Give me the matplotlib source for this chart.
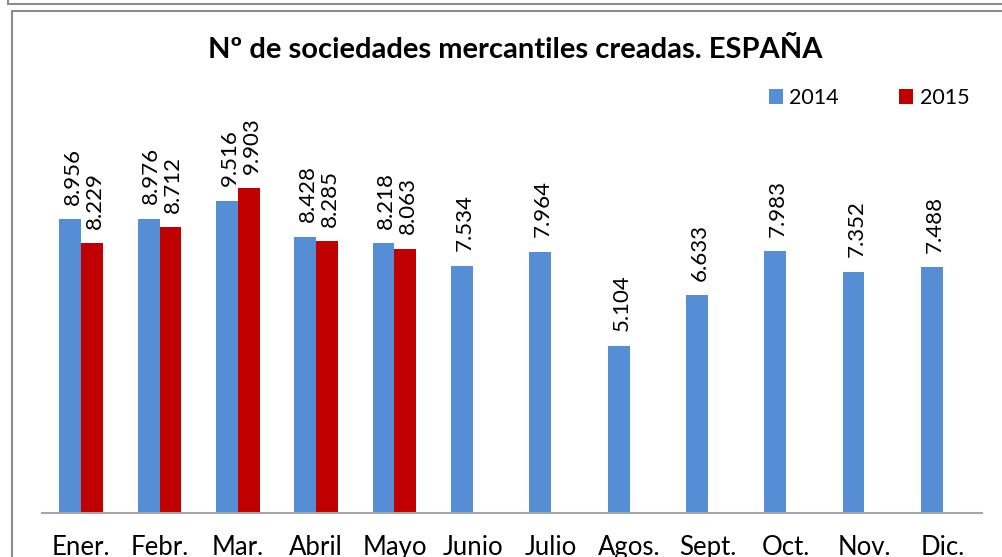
import matplotlib
matplotlib.use('Agg')
import matplotlib.pyplot as plt
import numpy as np
from matplotlib.lines import Line2D
from matplotlib.patches import Rectangle

months = ['Ener.', 'Febr.', 'Mar.', 'Abril', 'Mayo', 'Junio', 'Julio',
          'Agos.', 'Sept.', 'Oct.', 'Nov.', 'Dic.']
v2014 = [8956, 8976, 9516, 8428, 8218, 7534, 7964, 5104, 6633, 7983, 7352, 7488]
v2015 = [8229, 8712, 9903, 8285, 8063]

blue = '#558ED5'
red = '#C00000'
plt.rcParams['font.family'] = ['Lato', 'DejaVu Sans']


def fmt(v):
    return f'{v:,}'.replace(',', '.')


def bar_chart():
    W, H = 1003, 557
    fig = plt.figure(figsize=(W / 100, H / 100), dpi=100)
    ax = fig.add_axes([42 / W, (H - 513) / H, 940 / W, (513 - 119.4) / H])

    x = np.arange(len(months))
    w = 0.28
    b1 = ax.bar(x - w / 2, v2014, w, color=blue, label='2014')
    b2 = ax.bar(x[:len(v2015)] + w / 2, v2015, w, color=red, label='2015')

    # rotated value labels above the bars
    for bars, vals in ((b1, v2014), (b2, v2015)):
        for rect, v in zip(bars, vals):
            ax.annotate(fmt(v), (rect.get_x() + rect.get_width() / 2, v),
                        xytext=(2, 10.5), textcoords='offset points',
                        rotation=90, ha='center', va='bottom', fontsize=16)

    ax.set_xlim(-0.5, len(months) - 0.5)
    ax.set_ylim(0, 12000)
    ax.set_xticks(x)
    ax.set_xticklabels(months, fontsize=18.5, va='top')
    ax.tick_params(axis='x', length=0, pad=16)
    ax.set_yticks([])
    for s in ('left', 'right', 'top'):
        ax.spines[s].set_visible(False)
    ax.spines['bottom'].set_color('#A6A6A6')
    ax.spines['bottom'].set_linewidth(1.5)

    fig.text(515 / W, 1 - 50 / H, 'Nº de sociedades mercantiles creadas. ESPAÑA',
             ha='center', va='center', fontsize=21, fontweight='bold')

    fig.legend(handles=[b1, b2], loc='center', bbox_to_anchor=(869 / W, 1 - 98 / H),
               ncol=2, frameon=False, fontsize=15.5, handlelength=0.65,
               handleheight=0.65, handletextpad=0.3, columnspacing=2.8)

    # frames around the chart
    gray = '#8C8C8C'
    fig.add_artist(Line2D([8 / W, 1], [1 - 4 / H, 1 - 4 / H], color=gray, lw=1.5))
    fig.add_artist(Line2D([8 / W, 8 / W], [1 - 4 / H, 1], color=gray, lw=1.5))
    fig.add_artist(Rectangle((12 / W, -0.1), 1.2, 1 - 11 / H + 0.1, fill=False,
                             edgecolor=gray, lw=1.5, transform=fig.transFigure))

    fig.savefig('out.png', dpi=100)


bar_chart()
